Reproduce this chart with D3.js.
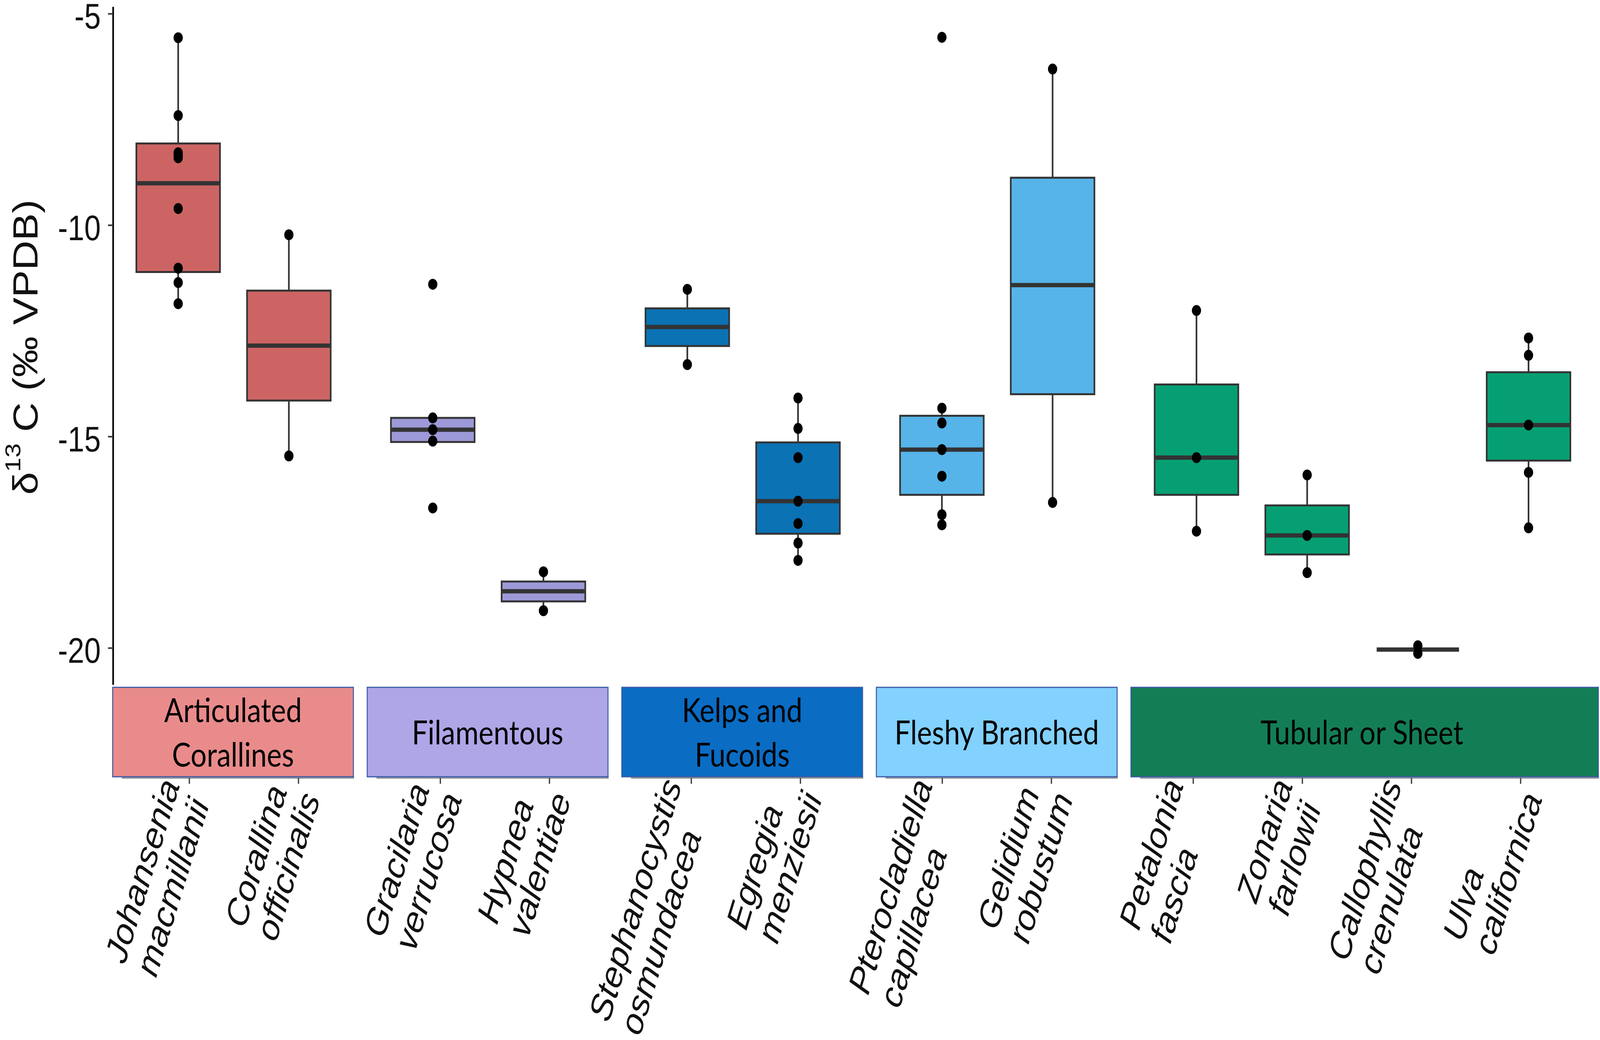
<!DOCTYPE html>
<html>
<head>
<meta charset="utf-8">
<script src="https://cdn.jsdelivr.net/npm/d3@7"></script>
<style>
  html, body { margin: 0; padding: 0; background: #fff; overflow: hidden; }
  svg { display: block; }
</style>
</head>
<body>
<div id="app"></div>
<script>
// Box plots of d13C by species, grouped by functional form.
var width = 4858, height = 2663;

var groups = [["Articulated", "Corallines"], ["Filamentous"], ["Kelps and", "Fucoids"], ["Fleshy Branched"], ["Tubular or Sheet"]];
var boxFill = ["#CD6464", "#9D99D8", "#0B72B4", "#56B4E9", "#069F73"];
var stripFill = ["#E98B8B", "#AFA6E7", "#0A6CC3", "#82D1FE", "#137E56"];

var species = [["Johansenia", "macmillanii"], ["Corallina", "officinalis"], ["Gracilaria", "verrucosa"], ["Hypnea", "valentiae"],
	["Stephanocystis", "osmundacea"], ["Egregia", "menziesii"], ["Pterocladiella", "capillacea"], ["Gelidium", "robustum"],
	["Petalonia", "fascia"], ["Zonaria", "farlowii"], ["Callophyllis", "crenulata"], ["Ulva", "californica"]];
var speciesGroup = [0, 0, 1, 1, 2, 2, 3, 3, 4, 4, 4, 4];

// box statistics
var whiskerHigh = [-5.57, -10.23, -14.56, -18.20, -11.52, -14.09, -14.33, -6.31, -12.02, -15.91, -20.04, -12.67];
var upperQ      = [-8.07, -11.55, -14.56, -18.43, -11.97, -15.14, -14.51, -8.88, -13.77, -16.63, -20.04, -13.48];
var medians     = [-9.01, -12.85, -14.84, -18.66, -12.41, -16.53, -15.31, -11.42, -15.50, -17.34, -20.04, -14.73];
var lowerQ      = [-11.11, -14.15, -15.13, -18.90, -12.86, -17.30, -16.38, -14.00, -16.38, -17.79, -20.04, -15.57];
var whiskerLow  = [-11.86, -15.46, -15.13, -19.12, -13.30, -17.93, -17.09, -16.56, -17.24, -18.22, -20.04, -17.16];

var points = [
	[-5.57, -7.41, -8.29, -8.35, -8.41, -9.61, -11.02, -11.36, -11.86],
	[-10.23, -15.46],
	[-11.40, -14.56, -14.84, -15.11, -16.69],
	[-18.20, -19.12],
	[-11.52, -13.30],
	[-14.09, -14.81, -15.50, -16.53, -17.06, -17.52, -17.93],
	[-5.56, -14.33, -14.68, -15.31, -15.94, -16.85, -17.09],
	[-6.31, -16.56],
	[-12.02, -15.50, -17.24],
	[-15.91, -17.34, -18.22],
	[-19.95, -20.13],
	[-12.67, -13.08, -14.73, -15.85, -17.16]];

var yTicks = [-5, -10, -15, -20];

var groupGap = 0.3;
function slot (i) { return i + speciesGroup[i] * groupGap; }
var lastSlot = slot(species.length - 1);

var x = d3.scaleLinear().domain([0, lastSlot]).range([541, 4641]);
var xTick = d3.scaleLinear().domain([0, lastSlot]).range([575, 4617]);
var y = d3.scaleLinear().domain([-4.834, -20.868]).range([17, 1753]);
var boxW = 254;

var sansFont = "'Liberation Sans', Arial, Helvetica, sans-serif";

// the window may not be 4858 wide: draw in 4858x2663 units and stretch to fill it
var svg = d3.select("#app").append("svg")
	.attr("width", window.innerWidth || width)
	.attr("height", window.innerHeight || height)
	.attr("viewBox", "0 0 " + width + " " + height)
	.attr("preserveAspectRatio", "none");

// y axis
var yAxis = svg.append("g")
	.attr("transform", "translate(343,0)")
	.call(d3.axisLeft(y).tickValues(yTicks).tickSize(15).tickSizeOuter(0).tickPadding(22)
		.tickFormat(function (d) { return String(d); }));
yAxis.attr("font-family", null).attr("font-size", null);
yAxis.select(".domain").attr("stroke", "#000").attr("stroke-width", 5);
yAxis.selectAll(".tick line").attr("stroke", "#333").attr("stroke-width", 4);
yAxis.selectAll(".tick text")
	.attr("fill", "#111")
	.attr("dy", "0.42em")
	.style("font-family", sansFont)
	.style("font-size", "90px");

var title = svg.append("text")
	.attr("transform", "translate(114,889) rotate(-90)")
	.attr("text-anchor", "middle")
	.attr("fill", "#111")
	.style("font-family", sansFont)
	.style("font-size", "105px");
title.append("tspan").text("\u03b4");
title.append("tspan").attr("dy", -52).style("font-size", "66px").text("13");
title.append("tspan").attr("dy", 52).text(" C (\u2030 VPDB)");

// boxes
var idx = d3.range(species.length);
var gBox = svg.append("g");

gBox.selectAll("line.whisker")
	.data(idx).enter().append("line")
	.attr("class", "whisker")
	.attr("x1", function (i) { return x(slot(i)); })
	.attr("x2", function (i) { return x(slot(i)); })
	.attr("y1", function (i) { return y(whiskerHigh[i]); })
	.attr("y2", function (i) { return y(whiskerLow[i]); })
	.attr("stroke", "#333").attr("stroke-width", 5);

gBox.selectAll("rect.box")
	.data(idx).enter().append("rect")
	.attr("class", "box")
	.attr("x", function (i) { return x(slot(i)) - boxW / 2; })
	.attr("width", boxW)
	.attr("y", function (i) { return y(upperQ[i]); })
	.attr("height", function (i) { return y(lowerQ[i]) - y(upperQ[i]); })
	.attr("fill", function (i) { return boxFill[speciesGroup[i]]; })
	.attr("stroke", "#333").attr("stroke-width", 5);

gBox.selectAll("line.median")
	.data(idx).enter().append("line")
	.attr("class", "median")
	.attr("x1", function (i) { return x(slot(i)) - boxW / 2 + 2; })
	.attr("x2", function (i) { return x(slot(i)) + boxW / 2 - 2; })
	.attr("y1", function (i) { return y(medians[i]); })
	.attr("y2", function (i) { return y(medians[i]); })
	.attr("stroke", "#333").attr("stroke-width", 11);

var dots = [];
points.forEach(function (p, i) { p.forEach(function (v) { dots.push([i, v]); }); });
gBox.selectAll("circle")
	.data(dots).enter().append("circle")
	.attr("cx", function (d) { return x(slot(d[0])); })
	.attr("cy", function (d) { return y(d[1]); })
	.attr("r", 14)
	.attr("fill", "#000");

// group strips
var stripTop = 1760, stripH = 229;
var gStrip = svg.append("g");
groups.forEach(function (lines, g) {
	var members = idx.filter(function (i) { return speciesGroup[i] === g; });
	var x0 = x(slot(members[0])) - 199;
	var xEnd = x(slot(members[members.length - 1])) + 196;
	var x1 = g === groups.length - 1 ? width - 5 : xEnd;
	// faint drop shadow below
	gStrip.append("rect")
		.attr("x", x0 + 28).attr("y", stripTop + stripH - 4)
		.attr("width", x1 - x0 - 26).attr("height", 9)
		.attr("fill", "#9a9a9a");
	gStrip.append("rect")
		.attr("x", x0).attr("y", stripTop)
		.attr("width", x1 - x0).attr("height", stripH)
		.attr("fill", stripFill[g])
		.attr("stroke", "#3b5ba5").attr("stroke-width", 3);
	var t = gStrip.append("text")
		.attr("text-anchor", "middle")
		.attr("fill", "#000")
		.style("font-family", "Lato, 'Open Sans', sans-serif")
		.style("font-size", "86px");
	var cx = (x0 + xEnd) / 2;
	var base = lines.length === 1 ? [1906] : [1849, 1963];
	lines.forEach(function (s, k) {
		t.append("tspan").attr("x", cx).attr("y", base[k]).text(s);
	});
});

// species ticks and labels
var gLab = svg.append("g");
gLab.selectAll("line")
	.data(idx).enter().append("line")
	.attr("x1", function (i) { return xTick(slot(i)); })
	.attr("x2", function (i) { return xTick(slot(i)); })
	.attr("y1", 1992).attr("y2", 2007)
	.attr("stroke", "#444").attr("stroke-width", 4);

// lines are left-aligned; the longest one ends at the tick
var labs = gLab.selectAll("text")
	.data(idx).enter().append("text")
	.attr("transform", function (i) { return "translate(" + xTick(slot(i)) + ",2020) rotate(-70)"; })
	.attr("fill", "#111")
	.style("font-family", sansFont)
	.style("font-style", "italic")
	.style("font-size", "96px");
labs.each(function (i) {
	var t = d3.select(this);
	var spans = species[i].map(function (s, k) {
		return t.append("tspan").attr("x", 0).attr("y", -30 + k * 101).text(s);
	});
	var maxLen = d3.max(spans, function (sp) { return sp.node().getComputedTextLength(); });
	spans.forEach(function (sp) { sp.attr("x", -maxLen); });
});
</script>
</body>
</html>
